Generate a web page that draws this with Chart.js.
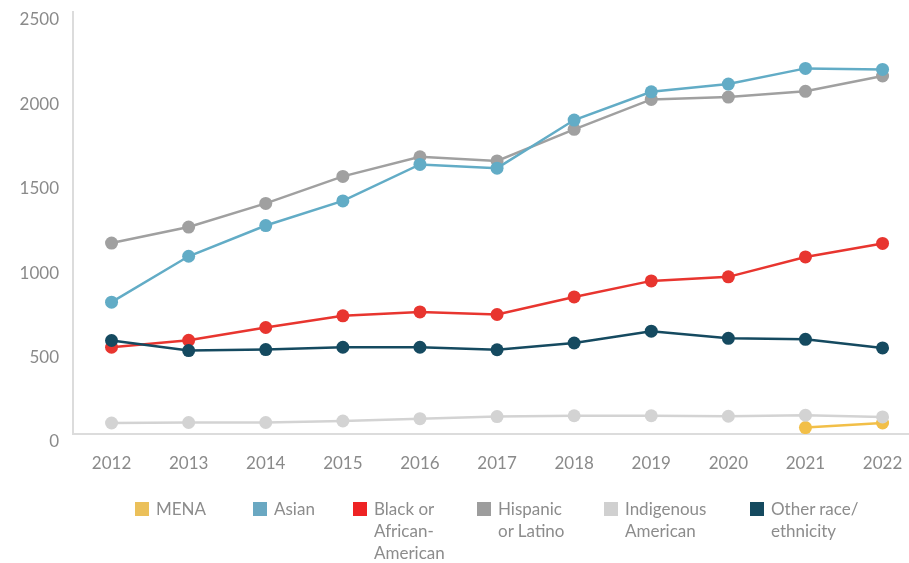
<!DOCTYPE html>
<html>
<head>
<meta charset="utf-8">
<script src="https://cdn.jsdelivr.net/npm/chart.js@4"></script>
<style>
  body { margin: 0; background: #fff; }
  #wrap { position: relative; width: 909px; height: 563px; }
  .leg { position: absolute; top: 498px; font-family: Lato, sans-serif; font-size: 17px;
         color: #8c8c8c; line-height: 22px; white-space: pre-line; }
  .leg i { position: absolute; left: 0; top: 4px; width: 14px; height: 14px; }
  .leg span { display: block; margin-left: 21px; }
</style>
</head>
<body>
<div id="wrap">
  <canvas id="c" width="909" height="563"></canvas>
</div>
<script>
var years = [2012, 2013, 2014, 2015, 2016, 2017, 2018, 2019, 2020, 2021, 2022];
var yTicks = [0, 500, 1000, 1500, 2000, 2500];

var mena       = [null, null, null, null, null, null, null, null, null, 38, 65];
var asian      = [781, 1053, 1235, 1381, 1597, 1575, 1860, 2027, 2073, 2166, 2160];
var black      = [514, 555, 631, 700, 723, 708, 812, 907, 931, 1049, 1129];
var hispanic   = [1131, 1226, 1366, 1526, 1642, 1618, 1805, 1982, 1996, 2030, 2121];
var indigenous = [65, 68, 68, 77, 91, 103, 108, 108, 105, 111, 101];
var other      = [554, 494, 500, 514, 514, 499, 539, 609, 567, 561, 510];

var names = ['MENA', 'Asian', 'Black or\nAfrican-\nAmerican', 'Hispanic\nor Latino', 'Indigenous\nAmerican', 'Other race/\nethnicity'];
var series = [mena, asian, black, hispanic, indigenous, other];
var lineColors = ['#f2bf48', '#62acc6', '#e8352f', '#a0a0a0', '#d3d3d3', '#154a60'];
var keyColors  = ['#ebc05a', '#6aa8c2', '#ee2324', '#9d9d9d', '#d0d0d0', '#154a5f'];
var drawOrder  = [5, 2, 4, 3, 1, 0];
var legendX    = [135, 253, 353, 477, 604, 750];

function points(vals) {
  var out = [];
  vals.forEach(function (v, i) { if (v !== null) out.push({ x: years[i], y: v }); });
  return out;
}

var datasets = series.map(function (vals, i) {
  return {
    label: names[i].replace(/\n/g, ' '),
    data: points(vals),
    borderColor: lineColors[i],
    backgroundColor: lineColors[i],
    pointBackgroundColor: lineColors[i],
    pointBorderWidth: 0,
    pointRadius: 6.5,
    borderWidth: 2.5,
    tension: 0,
    order: drawOrder[i]
  };
});

var tickFont = { family: 'Lato, sans-serif', size: 17 };

new Chart(document.getElementById('c'), {
  type: 'line',
  data: { datasets: datasets },
  options: {
    responsive: false,
    animation: false,
    layout: { autoPadding: false, padding: { top: 12, right: 1, bottom: 79, left: 0 } },
    plugins: { legend: { display: false }, tooltip: { enabled: false } },
    scales: {
      x: {
        type: 'linear',
        min: 2011.5,
        max: 2022.33,
        afterBuildTicks: function (s) { s.ticks = years.map(function (v) { return { value: v }; }); },
        afterFit: function (s) { s.height = 50; s.paddingLeft = 0; s.paddingRight = 0; },
        grid: { display: false, drawTicks: false },
        border: { color: '#dcdcdc', width: 2 },
        ticks: { color: '#8a8a8a', font: tickFont, padding: 19, maxRotation: 0,
                 callback: function (v) { return String(v); } }
      },
      y: {
        min: 0,
        max: 2500,
        afterBuildTicks: function (s) { s.ticks = yTicks.map(function (v) { return { value: v }; }); },
        afterFit: function (s) { s.width = 73; s.paddingTop = 0; s.paddingBottom = 0; },
        grid: { display: false, drawTicks: false },
        border: { color: '#dcdcdc', width: 2 },
        ticks: { color: '#8a8a8a', font: tickFont, padding: 14, labelOffset: 8,
                 callback: function (v) { return String(v); } }
      }
    }
  }
});

var wrap = document.getElementById('wrap');
names.forEach(function (n, i) {
  var d = document.createElement('div');
  d.className = 'leg';
  d.style.left = legendX[i] + 'px';
  var box = document.createElement('i');
  box.style.background = keyColors[i];
  var t = document.createElement('span');
  t.textContent = n;
  d.appendChild(box);
  d.appendChild(t);
  wrap.appendChild(d);
});
</script>
</body>
</html>
